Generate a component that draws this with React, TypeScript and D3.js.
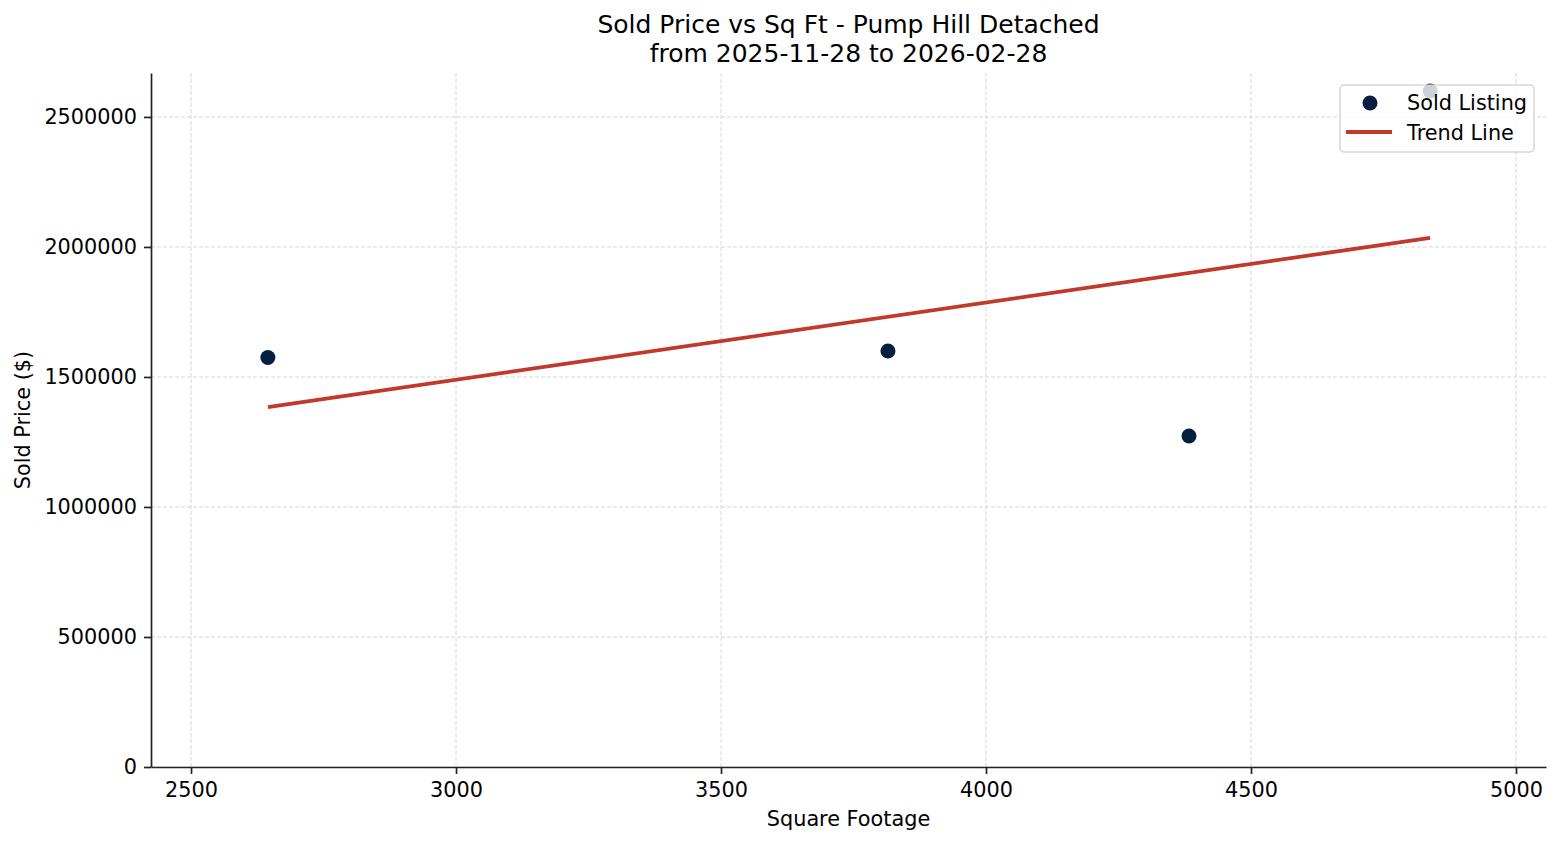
import React, { useEffect, useRef } from 'react'
import * as d3 from 'd3'

// Sold listings (square footage, sold price)
const sqft = [2645, 3815, 4383, 4838]
const soldPrice = [1575000, 1600000, 1273000, 2600000]

// Trend line end points
const trendSqft = [2645, 4838]
const trendPrice = [1384000, 2035000]

const xTicks = [2500, 3000, 3500, 4000, 4500, 5000]
const yTicks = [0, 500000, 1000000, 1500000, 2000000, 2500000]

const titleLines = ['Sold Price vs Sq Ft - Pump Hill Detached', 'from 2025-11-28 to 2026-02-28']

const WIDTH = 1560
const HEIGHT = 845
const margin = { top: 73, right: 14, bottom: 78, left: 151 }
const FONT = '"DejaVu Sans", sans-serif'
const POINT_COLOR = '#061f40'
const LINE_COLOR = '#c0392b'

export default function App() {
  const svgRef = useRef<SVGSVGElement>(null)

  useEffect(() => {
    if (!svgRef.current) return
    const svg = d3.select(svgRef.current)
    svg.selectAll('*').remove()

    const innerWidth = WIDTH - margin.left - margin.right
    const innerHeight = HEIGHT - margin.top - margin.bottom

    const xScale = d3.scaleLinear().domain([2424.5, 5056.6]).range([0, innerWidth])
    const yScale = d3.scaleLinear().domain([0, 2669000]).range([innerHeight, 0])

    svg.append('rect').attr('width', WIDTH).attr('height', HEIGHT).attr('fill', '#fff')

    const g = svg.append('g').attr('transform', `translate(${margin.left},${margin.top})`)

    // Grid lines
    g.append('g')
      .selectAll('line')
      .data(xTicks)
      .join('line')
      .attr('x1', d => xScale(d))
      .attr('x2', d => xScale(d))
      .attr('y1', 0)
      .attr('y2', innerHeight)
      .attr('stroke', '#d6d6d6')
      .attr('stroke-width', 1)
      .attr('stroke-dasharray', '4,2')

    g.append('g')
      .selectAll('line')
      .data(yTicks)
      .join('line')
      .attr('x1', 0)
      .attr('x2', innerWidth)
      .attr('y1', d => yScale(d))
      .attr('y2', d => yScale(d))
      .attr('stroke', '#d6d6d6')
      .attr('stroke-width', 1)
      .attr('stroke-dasharray', '4,2')

    // Axes
    const xAxis = g.append('g')
      .attr('transform', `translate(0,${innerHeight})`)
      .call(d3.axisBottom(xScale).tickValues(xTicks).tickSize(7).tickPadding(8).tickFormat(d => String(d)).tickSizeOuter(0))
    const yAxis = g.append('g')
      .call(d3.axisLeft(yScale).tickValues(yTicks).tickSize(7).tickPadding(7).tickFormat(d => String(d)).tickSizeOuter(0))

    ;[xAxis, yAxis].forEach(ax => {
      ax.select('.domain').attr('stroke', '#222').attr('stroke-width', 1.7)
      ax.selectAll('.tick line').attr('stroke', '#222').attr('stroke-width', 1.7)
      ax.selectAll('.tick text')
        .attr('fill', '#000')
        .style('font-family', FONT)
        .style('font-size', '20.8px')
      ax.attr('font-family', null).attr('font-size', null)
    })

    // Trend line
    const line = d3.line<number>()
      .x((_, i) => xScale(trendSqft[i]))
      .y(d => yScale(d))
    g.append('path')
      .datum(trendPrice)
      .attr('d', line)
      .attr('fill', 'none')
      .attr('stroke', LINE_COLOR)
      .attr('stroke-width', 3.8)

    // Points
    g.append('g')
      .selectAll('circle')
      .data(sqft)
      .join('circle')
      .attr('cx', d => xScale(d))
      .attr('cy', (_, i) => yScale(soldPrice[i]))
      .attr('r', 7.5)
      .attr('fill', POINT_COLOR)

    // Legend
    const legend = svg.append('g').attr('transform', 'translate(1340,85)')
    legend.append('rect')
      .attr('width', 194)
      .attr('height', 67)
      .attr('rx', 4)
      .attr('fill', '#fff')
      .attr('fill-opacity', 0.8)
      .attr('stroke', '#cccccc')
      .attr('stroke-opacity', 0.8)
      .attr('stroke-width', 1.5)
    legend.append('circle').attr('cx', 30).attr('cy', 18).attr('r', 7.5).attr('fill', POINT_COLOR)
    legend.append('line')
      .attr('x1', 6).attr('x2', 52).attr('y1', 47).attr('y2', 47)
      .attr('stroke', LINE_COLOR).attr('stroke-width', 3.8)
    legend.selectAll('text.lbl')
      .data(['Sold Listing', 'Trend Line'])
      .join('text')
      .attr('class', 'lbl')
      .attr('x', 67)
      .attr('y', (_, i) => 25 + i * 30)
      .style('font-family', FONT)
      .style('font-size', '20.8px')
      .attr('fill', '#000')
      .text(d => d)

    // Title
    svg.selectAll('text.title')
      .data(titleLines)
      .join('text')
      .attr('class', 'title')
      .attr('x', margin.left + innerWidth / 2)
      .attr('y', (_, i) => 33 + i * 29)
      .attr('text-anchor', 'middle')
      .style('font-family', FONT)
      .style('font-size', '25px')
      .attr('fill', '#000')
      .text(d => d)

    // Axis labels
    svg.append('text')
      .attr('x', margin.left + innerWidth / 2)
      .attr('y', 826)
      .attr('text-anchor', 'middle')
      .style('font-family', FONT)
      .style('font-size', '20.8px')
      .text('Square Footage')

    svg.append('text')
      .attr('transform', `translate(30,${margin.top + innerHeight / 2}) rotate(-90)`)
      .attr('text-anchor', 'middle')
      .style('font-family', FONT)
      .style('font-size', '20.8px')
      .text('Sold Price ($)')
  }, [])

  return (
    <svg
      ref={svgRef}
      width={WIDTH}
      height={HEIGHT}
      style={{ position: 'absolute', left: 0, top: 0 }}
    />
  )
}
